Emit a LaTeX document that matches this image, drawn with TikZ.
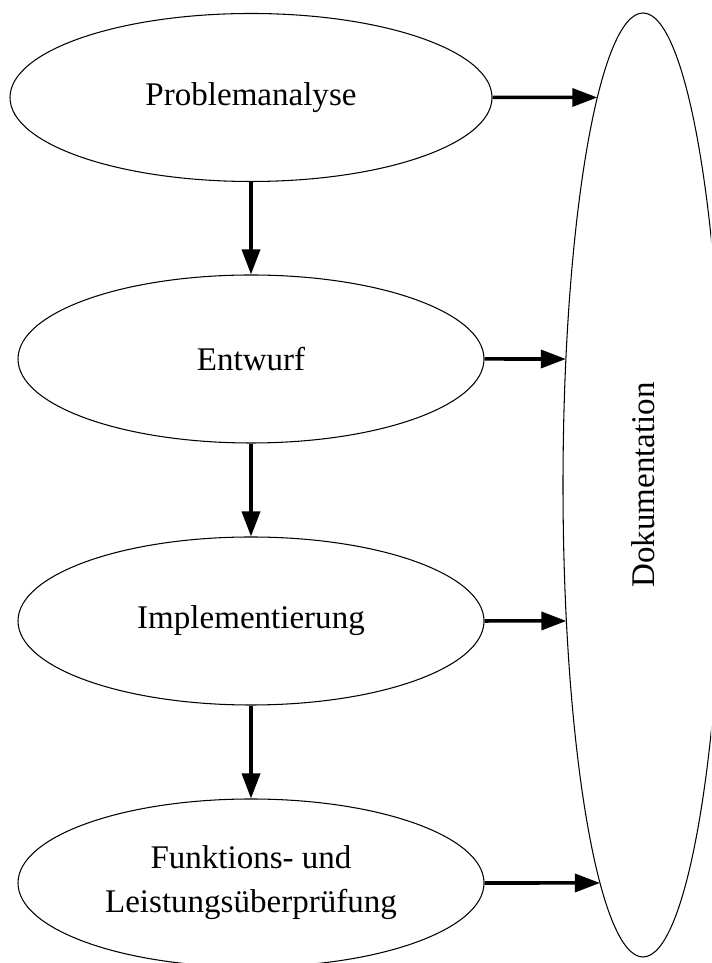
\documentclass[tikz,border=0pt]{standalone}
\usepackage{fontspec}
\setmainfont{Liberation Serif}
\usetikzlibrary{shapes.geometric}
\usetikzlibrary{arrows.meta}
\usetikzlibrary{intersections}

\begin{document}
\begin{tikzpicture}[>={Triangle[length=0.5cm,width=0.36cm]},
                        phase/.style={draw,ellipse,line width=0.6pt,minimum width=9.32cm,minimum height=3.36cm,
                            align=center,font=\fontsize{18.8}{25}\selectfont},
                        pfeil/.style={->,line width=2pt}]
                        \clip (0,0) rectangle (14.22,19.26);
                        \node[phase,minimum width=9.64cm] (analyse) at (5.02,17.31) {Problemanalyse};
                        \node[phase] (entwurf) at (5.02,12.08) {Entwurf};
                        \node[phase] (impl) at (5.02,6.84) {Implementierung};
                        \node[phase] (test) at (5.02,1.60) {Funktions- und\\Leistungsüberprüfung};
                        \node[phase,rotate=90,minimum width=18.88cm,minimum height=3.2cm,name path=dok] 
                            (dok) at (12.86,9.56) {Dokumentation};
                        \draw[pfeil] (analyse.south) -- (entwurf.north);
                        \draw[pfeil] (entwurf.south) -- (impl.north);
                        \draw[pfeil] (impl.south) -- (test.north);
                        \foreach \n in {analyse,entwurf,impl,test}{
                            \path[name path=strahl] (\n.east) -- ++(5,0);
                            \draw[pfeil,name intersections={of=strahl and dok,sort by=strahl}] 
                                (\n.east) -- (intersection-1);
                        }
                    \end{tikzpicture}
\end{document}
